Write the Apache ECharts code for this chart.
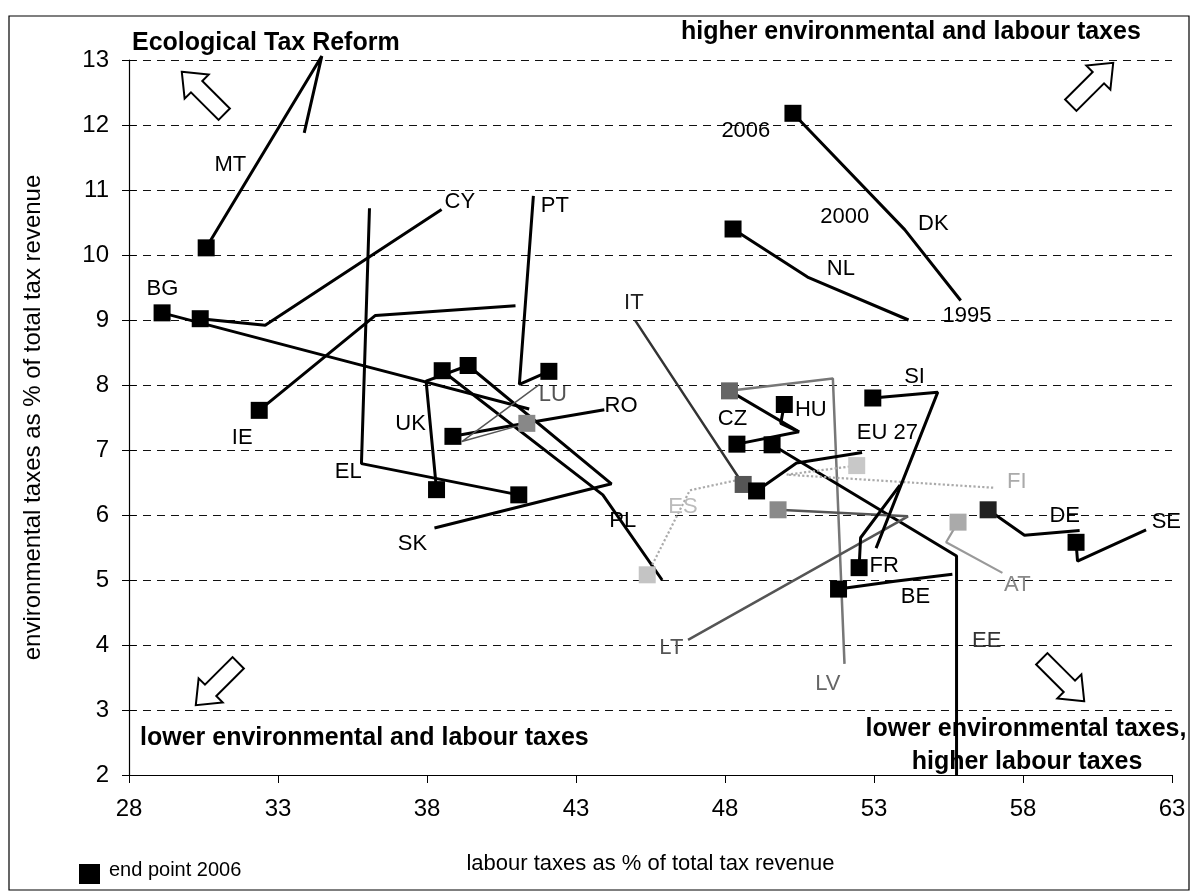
<!DOCTYPE html>
<html>
<head>
<meta charset="utf-8">
<script src="https://cdn.jsdelivr.net/npm/echarts@6/dist/echarts.min.js"></script>
<style>
html,body{margin:0;padding:0;background:#fff;}
#main{width:1193px;height:894px;}
</style>
</head>
<body>
<div id="main"></div>
<script>
// ---- data: trajectories 1995 -> 2000 -> 2006 (end point) ----
const countries = ['MT','CY','BG','IE','EL','UK','PL','SK','RO','LU','PT','DK','NL','IT','CZ','HU','LV','EE','EU27','ES','FI','LT','SI','FR','BE','DE','SE','AT'];
const x1995 = [33.88,38.49,41.43,40.97,36.07,39.38,45.89,38.25,43.95,41.78,41.57,55.91,54.16,44.99,48.15,50.48,52.01,55.77,52.60,48.34,57.00,46.76,53.07,53.87,55.63,59.90,62.13,57.31];
const y1995 = [11.88,10.70,7.63,9.22,10.72,8.30,5.00,5.80,7.62,8.01,10.91,9.30,9.00,8.99,7.91,7.28,3.71,2.00,6.96,6.53,6.42,4.08,5.49,6.46,5.09,5.76,5.77,5.11];
const x2000 = [34.47,32.57,35.50,36.27,35.80,37.97,43.90,44.19,41.30,39.17,41.10,54.03,50.77,46.90,50.48,49.87,51.62,55.77,50.40,46.82,50.07,54.14,55.14,52.55,53.70,58.05,59.83,55.42];
const y2000 = [13.06,8.92,8.34,9.07,6.79,8.06,6.31,6.48,7.41,7.13,8.01,10.39,9.66,7.66,7.28,7.41,8.10,5.37,6.80,6.38,6.62,5.98,7.89,5.65,4.98,5.69,5.29,5.58];
const x2006 = [30.59,30.39,29.11,32.37,41.08,38.32,38.51,39.38,38.87,41.35,42.09,50.28,48.27,48.61,48.40,49.99,48.15,49.58,49.06,45.39,52.42,49.78,52.96,52.50,51.81,56.83,59.78,55.82];
const y2006 = [10.11,9.02,9.11,7.61,6.31,6.39,8.22,8.30,7.21,7.41,8.21,12.18,10.40,6.47,7.09,7.70,7.91,7.08,6.37,5.08,6.76,6.08,7.80,5.19,4.86,6.08,5.58,5.89];

// ---- text labels placed in data coordinates ----
const labelTexts = ['MT','CY','PT','BG','IE','EL','UK','SK','LU','RO','PL','IT','CZ','HU','EU 27','SI','FI','DE','SE','FR','BE','AT','EE','LV','LT','ES','DK','NL','2006','2000','1995'];
const labelX = [31.40,39.10,42.29,29.12,31.80,35.36,37.45,37.51,42.22,44.51,44.57,44.94,48.25,50.88,53.45,54.36,57.79,59.40,62.81,53.34,54.39,57.81,56.78,51.45,46.20,46.59,54.99,51.89,48.70,52.02,56.12];
const labelY = [11.39,10.82,10.75,9.48,7.18,6.67,7.40,5.55,7.85,7.68,5.91,9.27,7.48,7.61,7.26,8.13,6.51,5.99,5.89,5.21,4.74,4.92,4.06,3.40,3.95,6.13,10.48,9.79,11.91,10.58,9.06];

// ---- axis ticks ----
const xTicks = [28,33,38,43,48,53,58,63];
const yTicks = [2,3,4,5,6,7,8,9,10,11,12,13];

// ---- styles (not data) ----
const lineStyles = {
  LU:{color:'#555',width:1.5},
  IT:{color:'#333',width:2.5},
  ES:{color:'#aaa',width:2.2,type:'dotted'},
  FI:{color:'#aaa',width:2.2,type:'dotted'},
  LT:{color:'#555',width:2.5},
  LV:{color:'#777',width:2.5},
  AT:{color:'#999',width:2.2}
};
const squareColors = {LU:'#888',IT:'#555',ES:'#c4c4c4',FI:'#c8c8c8',LT:'#8a8a8a',LV:'#666',AT:'#aaa',DE:'#222'};
const labelColors = {LU:'#555',IT:'#222',FI:'#aaa',AT:'#888',EE:'#333',LV:'#666',LT:'#555',ES:'#bbb'};
const FONT = '"Liberation Sans", Arial, sans-serif';

const chart = echarts.init(document.getElementById('main'), null, {renderer:'canvas'});

const series = [];
countries.forEach((c,i)=>{
  const st = lineStyles[c] || {color:'#000',width:3};
  series.push({
    type:'line', name:c, silent:true, animation:false, clip:false,
    symbol:'none', z:2,
    lineStyle:{color:st.color,width:st.width,type:st.type||'solid',opacity:1},
    data:[[x1995[i],y1995[i]],[x2000[i],y2000[i]],[x2006[i],y2006[i]]]
  });
});
series.push({
  type:'scatter', name:'end point 2006', silent:true, animation:false, z:5,
  symbol:'rect', symbolSize:17, itemStyle:{opacity:1},
  data: countries.map((c,i)=>({value:[x2006[i],y2006[i]], itemStyle:{color:squareColors[c]||'#000',opacity:1}}))
});
series.push({
  type:'scatter', name:'labels', silent:true, animation:false, z:6,
  symbolSize:0, itemStyle:{opacity:1},
  data: labelTexts.map((t,i)=>({value:[labelX[i],labelY[i]], name:t,
    label:{color:labelColors[t]||'#000'}})),
  label:{show:true, position:'inside', formatter:p=>p.name, opacity:1,
    fontFamily:FONT, fontSize:22, color:'#000'}
});

const arrowPts = [[0,-30],[17,-9],[8,-9],[8,30],[-8,30],[-8,-9],[-17,-9]];
function arrow(x,y,rot){
  return {type:'polygon', x:x, y:y, rotation:rot, shape:{points:arrowPts},
    style:{fill:'#fff',stroke:'#000',lineWidth:2}, z:10, silent:true};
}
function txt(x,y,text,size,bold,align){
  return {type:'text', x:x, y:y, z:10, silent:true,
    style:{text:text, font:(bold?'bold ':'')+size+'px '+FONT,
      fill:'#000', textAlign:align||'left', align:align||'left', textVerticalAlign:'middle', verticalAlign:'middle'}};
}

chart.setOption({
  animation:false,
  backgroundColor:'#fff',
  grid:{left:129, right:21, top:60, bottom:119, containLabel:false},
  xAxis:{
    type:'value', min:28, max:63, interval:5,
    name:'labour taxes as % of total tax revenue', nameLocation:'middle', nameGap:78,
    nameTextStyle:{fontFamily:FONT, fontSize:22, color:'#000'},
    axisLine:{lineStyle:{color:'#000',width:1.2}},
    axisTick:{show:true, length:8, lineStyle:{color:'#000'}},
    axisLabel:{fontFamily:FONT, fontSize:24, color:'#000', margin:22,
      formatter:v=>xTicks.indexOf(v)>=0?String(v):''},
    splitLine:{show:false}
  },
  yAxis:[{
    type:'value', min:2, max:13, interval:1,
    name:'environmental taxes as % of total tax revenue', nameLocation:'middle', nameGap:84,
    nameTextStyle:{fontFamily:FONT, fontSize:24, color:'#000'},
    axisLine:{show:true, lineStyle:{color:'#000',width:1.2}},
    axisTick:{show:true, length:7, lineStyle:{color:'#000'}},
    axisLabel:{fontFamily:FONT, fontSize:24, color:'#000', margin:20,
      formatter:v=>yTicks.indexOf(v)>=0?String(v):''},
    splitLine:{show:true, lineStyle:{color:'#111', width:1, type:[8,6]}}
  },{
    type:'value', min:2, max:13, interval:1, position:'left',
    axisLine:{show:false}, axisLabel:{show:false}, splitLine:{show:false},
    axisTick:{show:true, inside:true, length:7, lineStyle:{color:'#000'}}
  }],
  series: series,
  graphic:[
    {type:'rect', shape:{x:9,y:16,width:1180,height:874}, style:{fill:'none',stroke:'#000',lineWidth:1.2}, z:1, silent:true},
    txt(132,43,'Ecological Tax Reform',25,true),
    txt(681,32,'higher environmental and labour taxes',25,true),
    txt(140,738,'lower environmental and labour taxes',25,true),
    txt(1026,729,'lower environmental taxes,',25,true,'center'),
    txt(1027,762,'higher labour taxes',25,true,'center'),
    arrow(203,93,Math.PI/4),
    arrow(1092,84,-Math.PI/4),
    arrow(217,684,3*Math.PI/4),
    arrow(1063,680,-3*Math.PI/4),
    {type:'rect', shape:{x:79,y:864,width:21,height:20}, style:{fill:'#000'}, z:10, silent:true},
    txt(109,870,'end point 2006',20,false)
  ]
});
</script>
</body>
</html>
